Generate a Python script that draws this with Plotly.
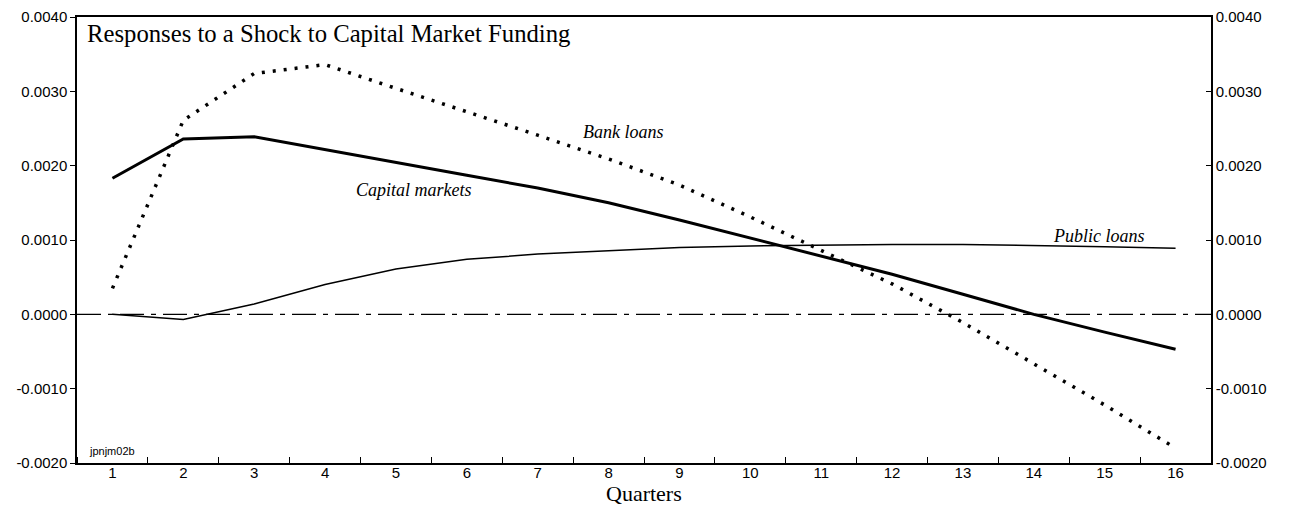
import plotly.graph_objects as go

# ---------------------------------------------------------------------------
# Impulse responses
# ---------------------------------------------------------------------------

quarters = list(range(1, 17))

capital_markets = [0.00183, 0.00236, 0.00239, 0.00222, 0.00204, 0.00187, 0.00170, 0.00150,
                   0.00127, 0.00103, 0.00079, 0.00054, 0.00027, 0.00000, -0.00024, -0.00047]

bank_loans = [0.00035, 0.00261, 0.00324, 0.00336, 0.00304, 0.00273, 0.00241, 0.00209,
              0.00174, 0.00131, 0.00086, 0.00041, -0.00011, -0.00066, -0.00122, -0.00180]

public_loans = [0.00000, -0.00007, 0.00014, 0.00040, 0.00061, 0.00074, 0.00081, 0.00086,
                0.00090, 0.00092, 0.00093, 0.00094, 0.00094, 0.00093, 0.00091, 0.00089]

y_ticks = [-0.002, -0.001, 0.0, 0.001, 0.002, 0.003, 0.004]
y_tick_labels = [f"{v:.4f}" for v in y_ticks]

tick_font = {"family": "Liberation Sans, Arial", "size": 15, "color": "black"}
serif = "Liberation Serif, Times New Roman"

fig = go.Figure()

# zero line (dash-dot)
fig.add_trace(go.Scatter(
    x=[0.5, 16.5], y=[0, 0], mode="lines",
    line={"color": "black", "width": 1.3, "dash": "24px,7px,5px,7px"},
    showlegend=False, hoverinfo="skip",
))
fig.add_trace(go.Scatter(
    x=quarters, y=public_loans, mode="lines", name="Public loans",
    line={"color": "black", "width": 1.5},
))
fig.add_trace(go.Scatter(
    x=quarters, y=capital_markets, mode="lines", name="Capital markets",
    line={"color": "black", "width": 3},
))
fig.add_trace(go.Scatter(
    x=quarters, y=bank_loans, mode="lines", name="Bank loans",
    line={"color": "black", "width": 3.5, "dash": "3px,8px"},
))
# invisible trace so the right-hand axis is drawn
fig.add_trace(go.Scatter(
    x=quarters, y=capital_markets, yaxis="y2", mode="lines",
    line={"color": "rgba(0,0,0,0)"}, showlegend=False, hoverinfo="skip",
))

fig.update_layout(
    width=1290, height=508,
    margin={"l": 77, "r": 79, "t": 17, "b": 45},
    paper_bgcolor="white", plot_bgcolor="white",
    showlegend=False,
    xaxis={
        "range": [0.5, 16.5],
        "tickvals": quarters,
        "ticks": "",
        "tickfont": tick_font,
        "ticklabelstandoff": -5,
        "automargin": False,
        "showgrid": False, "zeroline": False,
        "showline": True, "linecolor": "black", "linewidth": 1.5, "mirror": True,
        "minor": {"ticks": "inside", "tick0": 0.5, "dtick": 1, "ticklen": 6,
                  "tickcolor": "black", "showgrid": False},
    },
    yaxis={
        "range": [-0.002, 0.004],
        "tickvals": y_ticks, "ticktext": y_tick_labels,
        "ticks": "outside", "ticklen": 5, "tickcolor": "black",
        "tickfont": tick_font,
        "automargin": False,
        "showgrid": False, "zeroline": False,
        "showline": True, "linecolor": "black", "linewidth": 1.5,
    },
    yaxis2={
        "range": [-0.002, 0.004],
        "overlaying": "y", "side": "right",
        "tickvals": y_ticks, "ticktext": y_tick_labels,
        "ticks": "inside", "ticklen": 5, "tickcolor": "black",
        "tickfont": tick_font,
        "automargin": False,
        "showgrid": False, "zeroline": False,
        "showline": True, "linecolor": "black", "linewidth": 1.5,
    },
)

label_font = {"family": serif, "size": 18, "color": "black", "style": "italic"}
fig.add_annotation(x=5.26, y=0.00167, text="Capital markets", showarrow=False, font=label_font)
fig.add_annotation(x=8.21, y=0.00245, text="Bank loans", showarrow=False, font=label_font)
fig.add_annotation(x=14.92, y=0.00106, text="Public loans", showarrow=False, font=label_font)

fig.add_annotation(
    xref="paper", yref="paper", x=0.007, y=0.962, xanchor="left", yanchor="middle",
    text="Responses to a Shock to Capital Market Funding", showarrow=False,
    font={"family": serif, "size": 24.7, "color": "black"},
)
fig.add_annotation(
    xref="paper", yref="paper", x=0.5, y=-0.069, yanchor="middle",
    text="Quarters", showarrow=False,
    font={"family": serif, "size": 22, "color": "black"},
)
fig.add_annotation(
    x=1.0, y=-0.00184, text="jpnjm02b", showarrow=False,
    font={"family": "Liberation Sans, Arial", "size": 11, "color": "black"},
)

# drop the browser's default body margin so the figure fills the window exactly
fig.write_html(
    "out.html",
    config={"displayModeBar": False},
    post_script="document.body.style.margin = '0';",
)
